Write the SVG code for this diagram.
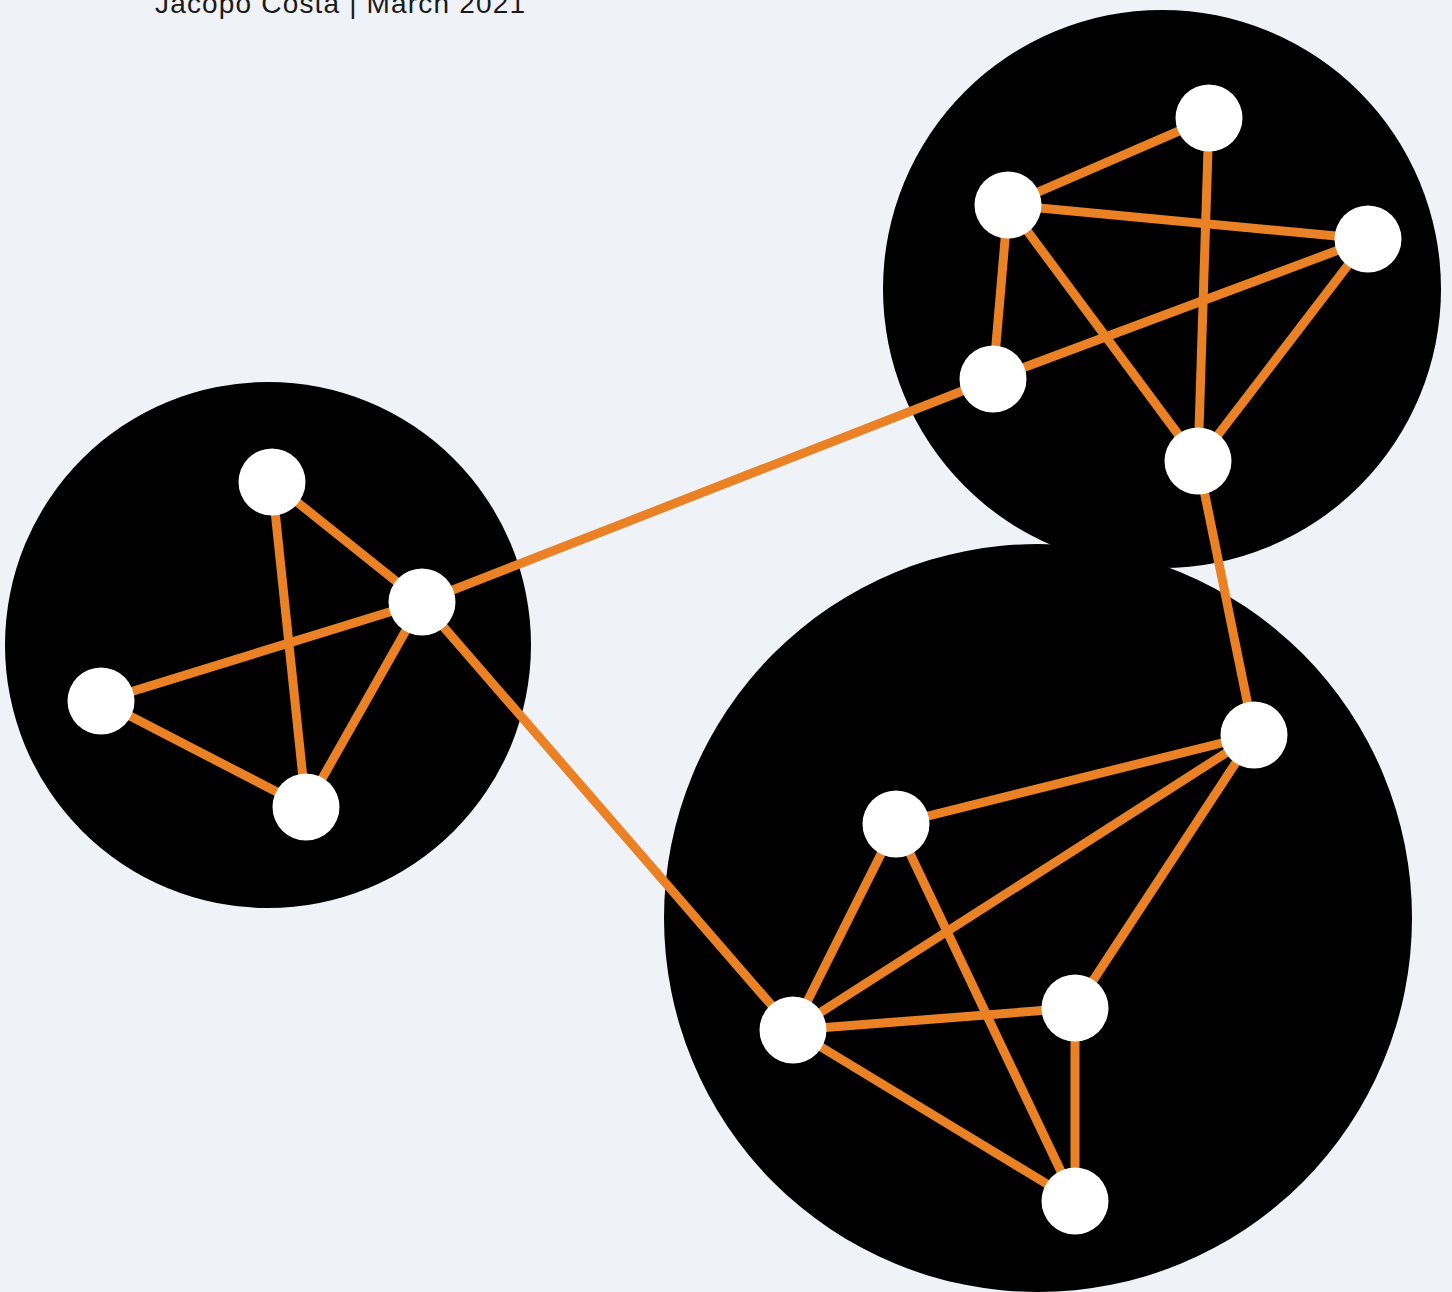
<svg xmlns="http://www.w3.org/2000/svg" width="1452" height="1292" viewBox="0 0 1452 1292">
<style>
.cluster{fill:#000}
.edge{stroke:#ea8125;stroke-width:9;stroke-linecap:butt;fill:none}
.node{fill:#fff}
.title{font-family:"Liberation Sans",Arial,sans-serif;font-size:28px;fill:#1a1a1a}
</style>
<rect width="1452" height="1292" fill="#eff3f8"/>
<text class="title" x="155" y="13" textLength="370">Jacopo Costa | March 2021</text>
<g id="clusters">
<circle id="cluster-left" class="cluster" cx="268" cy="645" r="263"/>
<circle id="cluster-topright" class="cluster" cx="1162" cy="289" r="279"/>
<circle id="cluster-bottom" class="cluster" cx="1038" cy="918" r="374"/>
</g>
<g id="connectors">
<line class="edge" x1="272" y1="482" x2="422" y2="602"/>
<line class="edge" x1="272" y1="482" x2="306" y2="807"/>
<line class="edge" x1="101" y1="701" x2="422" y2="602"/>
<line class="edge" x1="101" y1="701" x2="306" y2="807"/>
<line class="edge" x1="422" y1="602" x2="306" y2="807"/>
<line class="edge" x1="422" y1="602" x2="993" y2="379"/>
<line class="edge" x1="422" y1="602" x2="793" y2="1030"/>
<line class="edge" x1="1209" y1="118" x2="1008" y2="205"/>
<line class="edge" x1="1209" y1="118" x2="1198" y2="461"/>
<line class="edge" x1="1008" y1="205" x2="1368" y2="239"/>
<line class="edge" x1="1008" y1="205" x2="993" y2="379"/>
<line class="edge" x1="1008" y1="205" x2="1198" y2="461"/>
<line class="edge" x1="1368" y1="239" x2="993" y2="379"/>
<line class="edge" x1="1368" y1="239" x2="1198" y2="461"/>
<line class="edge" x1="1198" y1="461" x2="1254" y2="735"/>
<line class="edge" x1="1254" y1="735" x2="896" y2="824"/>
<line class="edge" x1="1254" y1="735" x2="793" y2="1030"/>
<line class="edge" x1="1254" y1="735" x2="1075" y2="1008"/>
<line class="edge" x1="896" y1="824" x2="793" y2="1030"/>
<line class="edge" x1="896" y1="824" x2="1075" y2="1201"/>
<line class="edge" x1="793" y1="1030" x2="1075" y2="1008"/>
<line class="edge" x1="793" y1="1030" x2="1075" y2="1201"/>
<line class="edge" x1="1075" y1="1008" x2="1075" y2="1201"/>
</g>
<g id="node-a"><circle class="node" cx="272" cy="482" r="33.5"/></g>
<g id="node-b"><circle class="node" cx="422" cy="602" r="33.5"/></g>
<g id="node-c"><circle class="node" cx="101" cy="701" r="33.5"/></g>
<g id="node-d"><circle class="node" cx="306" cy="807" r="33.5"/></g>
<g id="node-e"><circle class="node" cx="1209" cy="118" r="33.5"/></g>
<g id="node-f"><circle class="node" cx="1008" cy="205" r="33.5"/></g>
<g id="node-g"><circle class="node" cx="1368" cy="239" r="33.5"/></g>
<g id="node-h"><circle class="node" cx="993" cy="379" r="33.5"/></g>
<g id="node-i"><circle class="node" cx="1198" cy="461" r="33.5"/></g>
<g id="node-j"><circle class="node" cx="1254" cy="735" r="33.5"/></g>
<g id="node-k"><circle class="node" cx="896" cy="824" r="33.5"/></g>
<g id="node-l"><circle class="node" cx="793" cy="1030" r="33.5"/></g>
<g id="node-m"><circle class="node" cx="1075" cy="1008" r="33.5"/></g>
<g id="node-n"><circle class="node" cx="1075" cy="1201" r="33.5"/></g>
</svg>
